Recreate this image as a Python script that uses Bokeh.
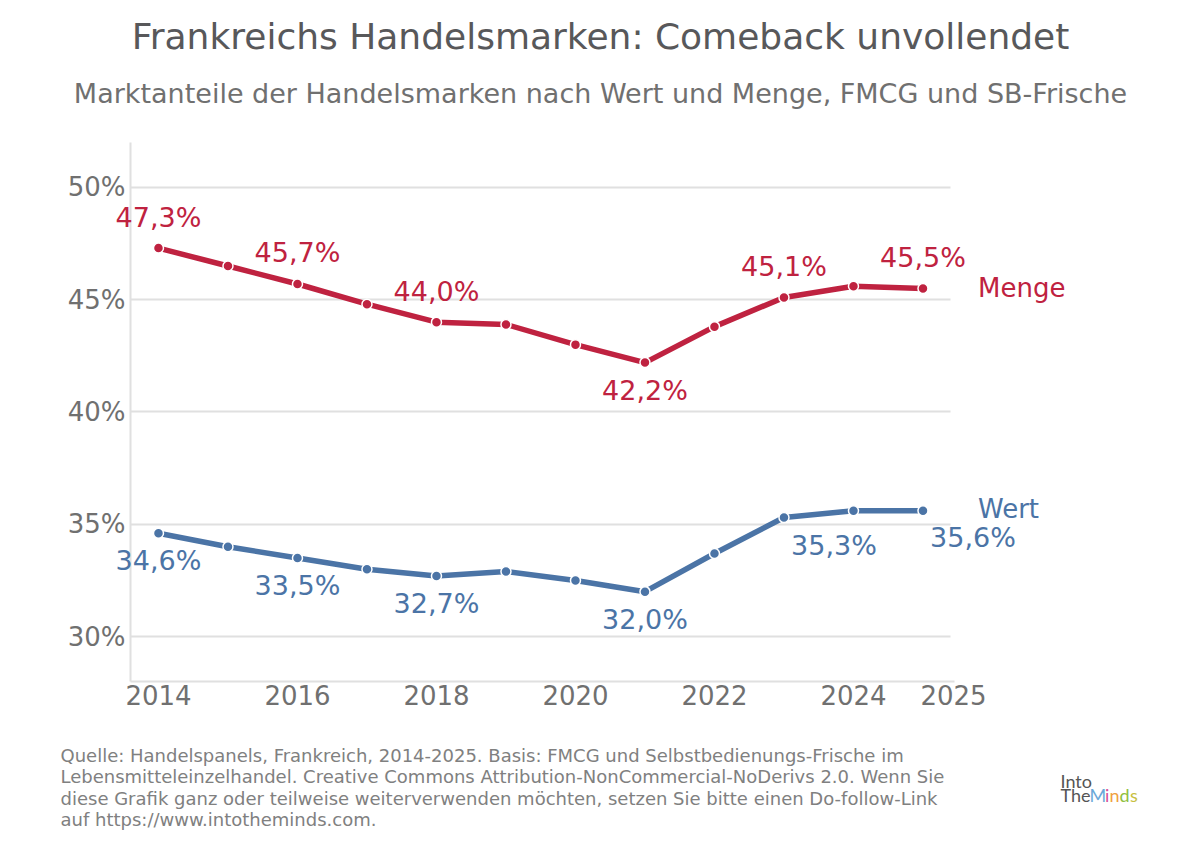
from bokeh.plotting import figure
from bokeh.models import (ColumnDataSource, LabelSet, Label, FixedTicker, Grid,
                          PrintfTickFormatter, CustomJSTickFormatter, Range1d)
from bokeh.core.properties import value
from bokeh.embed import file_html
from bokeh.resources import INLINE

# ---- data ----
years = [2014, 2015, 2016, 2017, 2018, 2019, 2020, 2021, 2022, 2023, 2024, 2025]
menge = [47.3, 46.5, 45.7, 44.8, 44.0, 43.9, 43.0, 42.2, 43.8, 45.1, 45.6, 45.5]
wert = [34.6, 34.0, 33.5, 33.0, 32.7, 32.9, 32.5, 32.0, 33.7, 35.3, 35.6, 35.6]

menge_label_years = [2014, 2016, 2018, 2021, 2023, 2025]
wert_label_years = [2014, 2016, 2018, 2021, 2023, 2025]

y_ticks = [30, 35, 40, 45, 50]
x_ticks = [2014, 2016, 2018, 2020, 2022, 2024, 2025.44]

title = "Frankreichs Handelsmarken: Comeback unvollendet"
subtitle = "Marktanteile der Handelsmarken nach Wert und Menge, FMCG und SB-Frische"
footer = [
    "Quelle: Handelspanels, Frankreich, 2014-2025. Basis: FMCG und Selbstbedienungs-Frische im",
    "Lebensmitteleinzelhandel. Creative Commons Attribution-NonCommercial-NoDerivs 2.0. Wenn Sie",
    "diese Grafik ganz oder teilweise weiterverwenden möchten, setzen Sie bitte einen Do-follow-Link",
    "auf https://www.intotheminds.com.",
]

# ---- styles / layout ----
RED = "#bf2240"
BLUE = "#4b74a6"
GRID = "#e0e0e0"
TXT = "#707070"
FONT = "DejaVu Sans"
W, H = 1192, 840
X0, X1 = 2011.727, 2028.878      # full-canvas frame
Y0, Y1 = 20.92, 58.323
AX_X = (2013.597, 2025.45)       # visible axis extents
GRID_X = (2013.597, 2025.39)
AX_Y = (28, 52)

def fmt(v):
    return f"{v:.1f}".replace(".", ",") + "%"

p = figure(width=W, height=H, output_backend="svg", toolbar_location=None,
           x_range=Range1d(X0, X1), y_range=Range1d(Y0, Y1), min_border=0)
p.outline_line_color = None
p.background_fill_color = "white"
p.border_fill_color = "white"

p.xgrid.visible = False
if "cross_bounds" in Grid.properties():
    p.ygrid.ticker = FixedTicker(ticks=y_ticks)
    p.ygrid.grid_line_color = GRID
    p.ygrid.grid_line_width = 2
    p.ygrid.cross_bounds = GRID_X
else:
    p.ygrid.visible = False
    p.segment(x0=[GRID_X[0]] * len(y_ticks), x1=[GRID_X[1]] * len(y_ticks), y0=y_ticks,
              y1=y_ticks, line_color=GRID, line_width=2)

for ax in (p.xaxis[0], p.yaxis[0]):
    ax.axis_line_color = GRID
    ax.axis_line_width = 2
    ax.major_tick_line_color = None
    ax.minor_tick_line_color = None
    ax.major_tick_out = 0
    ax.major_tick_in = 0
    ax.major_label_text_font = FONT
    ax.major_label_text_font_size = "26px"
    ax.major_label_text_color = TXT

p.yaxis.fixed_location = AX_X[0]
p.yaxis.bounds = AX_Y
p.yaxis.ticker = FixedTicker(ticks=y_ticks)
p.yaxis.formatter = PrintfTickFormatter(format="%d%%")
p.yaxis.major_label_standoff = 5
p.xaxis.fixed_location = AX_Y[0]
p.xaxis.bounds = AX_X
p.xaxis.ticker = FixedTicker(ticks=x_ticks)
p.xaxis.formatter = CustomJSTickFormatter(code="return tick > 2024.5 ? '2025' : tick.toFixed(0);")
p.xaxis.major_label_standoff = 4

src = ColumnDataSource(dict(year=years, menge=menge, wert=wert))

for col, color in (("menge", RED), ("wert", BLUE)):
    p.line("year", col, source=src, line_color=color, line_width=5.5)
    p.scatter("year", col, source=src, size=10, fill_color=color,
              line_color="white", line_width=1.5)

# value labels
def label_source(label_years, series, xo, yo):
    vals = [series[years.index(y)] for y in label_years]
    return ColumnDataSource(dict(x=label_years, y=vals, t=[fmt(v) for v in vals],
                                 xo=xo, yo=yo))

menge_src = label_source(menge_label_years, menge,
                         [0, 0, 0, 0, 0, 0], [31, 31, 31, -28, 31, 31])
wert_src = label_source(wert_label_years, wert,
                        [0, 0, 0, 0, 50, 50], [-27, -28, -28, -28, -28, -27])

for s, color in ((menge_src, RED), (wert_src, BLUE)):
    p.add_layout(LabelSet(x="x", y="y", text="t", source=s, x_offset="xo", y_offset="yo",
                          text_align="center", text_baseline="middle",
                          text_font=value(FONT), text_font_size=value("27px"),
                          text_color=color))

# series names
p.add_layout(Label(x=years[-1], y=menge[-1], x_offset=55, text="Menge", text_align="left",
                   text_baseline="middle", text_font=FONT, text_font_size="26px",
                   text_color=RED))
p.add_layout(Label(x=years[-1], y=wert[-1], x_offset=55, y_offset=2, text="Wert",
                   text_align="left", text_baseline="middle", text_font=FONT,
                   text_font_size="26px", text_color=BLUE))

# page texts: screen units from the frame's bottom-left (= canvas bottom-left)
def page_label(x, y_top, text, size, color, align="left", font=FONT):
    p.add_layout(Label(x=x, y=H - y_top, x_units="screen", y_units="screen", text=text,
                       text_align=align, text_baseline="middle", text_font=font,
                       text_font_size=size, text_color=color))

page_label(600, 36, title, "36px", "#58585a", align="center")
page_label(600, 93, subtitle, "27px", TXT, align="center")

for i, line in enumerate(footer):
    page_label(60, 755 + 21.3 * i, line, "18px", "#808080")

# logo
page_label(1060, 780, "Into", "18px", "#555555", font="Lato")
logo_parts = [("The", "#555555", 1060), ("M", "#6aa8d8", 1089), ("i", "#d8509a", 1104.5),
              ("n", "#f0a040", 1109), ("d", "#90c040", 1119), ("s", "#c8c040", 1129.5)]
for t, c, x in logo_parts:
    page_label(x, 794, t, "18px", c, font="Lato")

open("out.html", "w").write(file_html(p, INLINE))
